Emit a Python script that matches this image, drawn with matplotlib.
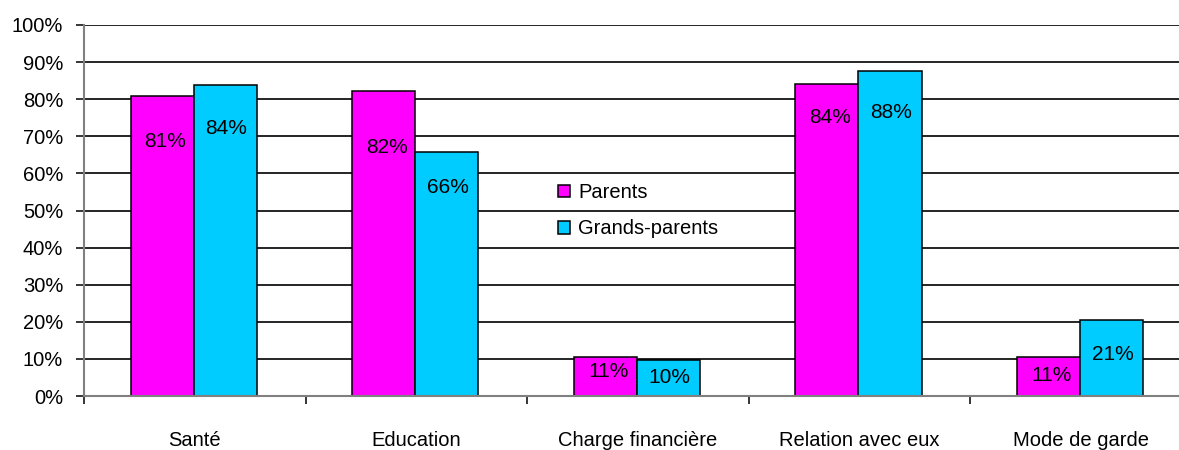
import matplotlib.pyplot as plt
import numpy as np

plt.rcParams['font.family'] = ['Liberation Sans', 'DejaVu Sans']

categories = ['Santé', 'Education', 'Charge financière', 'Relation avec eux', 'Mode de garde']
parents = [80.9, 82.3, 10.6, 84.1, 10.6]
grands_parents = [83.7, 65.7, 9.7, 87.6, 20.6]
yticks = [0, 10, 20, 30, 40, 50, 60, 70, 80, 90, 100]

# where the value labels sit inside each bar (data units)
lab_y_p = [68.5, 67.0, 6.5, 75.2, 5.4]
lab_y_g = [72.2, 56.1, 4.9, 76.5, 11.1]

fig = plt.figure(figsize=(11.79, 4.5), dpi=100)
ax = fig.add_axes([84 / 1179, 54 / 450, 1108 / 1179, 371 / 450])

x = np.arange(len(categories))
w = 0.285
c_p = '#FF00FF'
c_g = '#00CCFF'

ax.bar(x - w / 2 - 0.005, parents, w, color=c_p, edgecolor='black', linewidth=1.1,
       label='Parents', zorder=3)
ax.bar(x + w / 2 - 0.005, grands_parents, w, color=c_g, edgecolor='black', linewidth=1.1,
       label='Grands-parents', zorder=3)

for i in range(len(categories)):
    ax.text(x[i] - w / 2 + 0.01, lab_y_p[i], f'{round(parents[i])}%', ha='center',
            va='center', fontsize=15, zorder=4)
    ax.text(x[i] + w / 2, lab_y_g[i], f'{round(grands_parents[i])}%', ha='center',
            va='center', fontsize=15, zorder=4)

ax.set_xlim(-0.5, len(categories) - 0.5)
ax.set_ylim(0, 100)
ax.set_yticks(yticks)
ax.set_yticklabels([f'{t}%' for t in yticks])
ax.yaxis.grid(True, color='black', linewidth=1.2)
ax.set_axisbelow(True)

ax.set_xticks(x)
ax.set_xticklabels(categories)
ax.set_xticks(np.arange(-0.5, len(categories) - 0.4, 1), minor=True)
ax.tick_params(axis='x', which='major', length=0, pad=25, labelsize=14.5)
ax.tick_params(axis='x', which='minor', length=6, width=1.1, color='black')
ax.tick_params(axis='y', length=6, width=1.1, color='black', pad=9, labelsize=14.5)

for s in ['top', 'right']:
    ax.spines[s].set_visible(False)
for s in ['left', 'bottom']:
    ax.spines[s].set_color('#808080')
    ax.spines[s].set_linewidth(1.5)
    ax.spines[s].set_zorder(5)

ax.legend(loc='upper left', bbox_to_anchor=(540 / 1179, 1 - 165 / 450),
          bbox_transform=fig.transFigure, frameon=False, fontsize=14.5,
          handlelength=0.6, handleheight=0.6, handletextpad=0.4, labelspacing=0.85)

fig.savefig('out.png', dpi=100)
